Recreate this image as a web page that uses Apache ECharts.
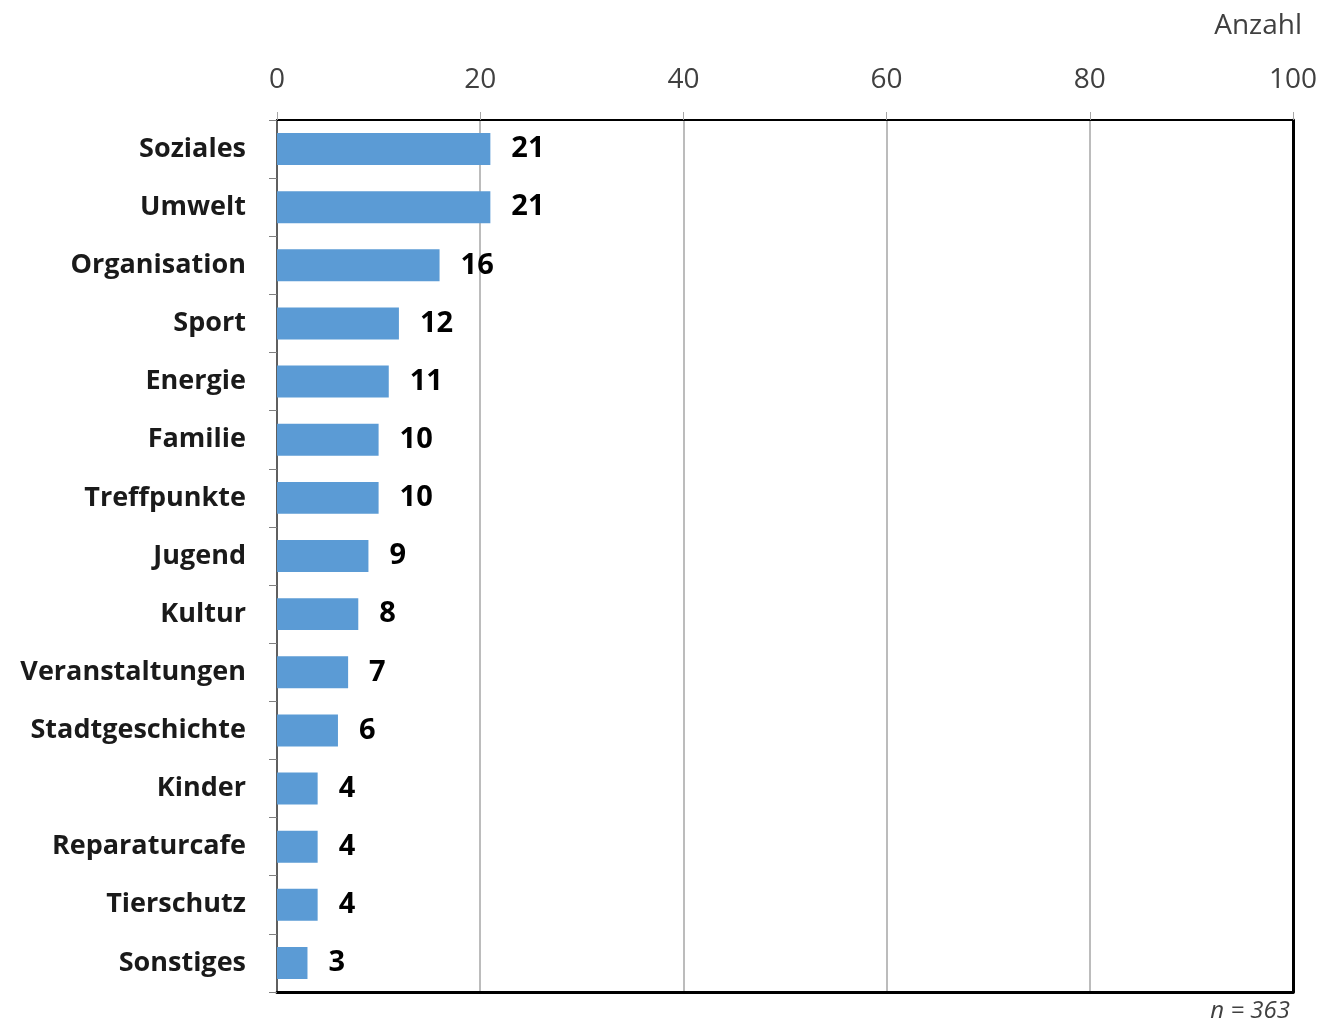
<!DOCTYPE html>
<html><head><meta charset="utf-8">
<script src="https://cdn.jsdelivr.net/npm/echarts@6/dist/echarts.min.js"></script>
<style>html,body{margin:0;padding:0;background:#fff}#c{width:1321px;height:1021px}</style>
</head><body><div id="c"></div>
<script>
const categories = ["Soziales","Umwelt","Organisation","Sport","Energie","Familie","Treffpunkte","Jugend","Kultur","Veranstaltungen","Stadtgeschichte","Kinder","Reparaturcafe","Tierschutz","Sonstiges"];
const values = [21,21,16,12,11,10,10,9,8,7,6,4,4,4,3];
const xTicks = {min:0, max:100, interval:20};
const unitLabel = "Anzahl";
const noteText = "n = 363";

const chart = echarts.init(document.getElementById('c'), null, {renderer:'canvas'});
const font = "'Open Sans', 'Noto Sans', sans-serif";
chart.setOption({
  animation:false,
  backgroundColor:'#fff',
  textStyle:{fontFamily:font},
  grid:{left:277, right:28, top:120, bottom:29, containLabel:false},
  title:[
    {text:unitLabel, right:14, top:7, textStyle:{fontFamily:font, fontSize:28, fontWeight:'normal', color:'#404040'}},
    {text:noteText, right:26, top:994, textStyle:{fontFamily:font, fontSize:24, fontWeight:'normal', fontStyle:'italic', color:'#404040'}}
  ],
  xAxis:[{
    type:'value', position:'top', min:xTicks.min, max:xTicks.max, interval:xTicks.interval,
    axisLine:{show:true, lineStyle:{color:'#000', width:2}},
    axisTick:{show:true, length:8, lineStyle:{color:'#a6a6a6', width:1}},
    axisLabel:{fontFamily:font, fontSize:28, color:'#404040', margin:26},
    splitLine:{show:true, lineStyle:{color:'#a6a6a6', width:1.5}}
  },{
    type:'value', position:'bottom', min:xTicks.min, max:xTicks.max, interval:xTicks.interval,
    axisLine:{show:true, onZero:false, lineStyle:{color:'#000', width:3}},
    axisTick:{show:false}, axisLabel:{show:false}, splitLine:{show:false}
  }],
  yAxis:[{
    type:'category', data:categories, inverse:true,
    axisLine:{show:true, lineStyle:{color:'#404040', width:1.5}},
    axisTick:{show:true, length:8, interval:0, lineStyle:{color:'#808080', width:1}},
    axisLabel:{fontFamily:font, fontSize:27, fontWeight:'bold', color:'#1a1a1a', margin:31, interval:0, padding:[3,0,0,0]},
    splitLine:{show:false}
  },{
    type:'category', data:categories, inverse:true, position:'right',
    axisLine:{show:true, onZero:false, lineStyle:{color:'#000', width:3}},
    axisTick:{show:false}, axisLabel:{show:false}, splitLine:{show:false}
  }],
  series:[{
    type:'bar', data:values, xAxisIndex:0, yAxisIndex:0, barWidth:'55%',
    itemStyle:{color:'#5b9bd5'},
    label:{show:true, position:'right', distance:21, fontFamily:font, fontSize:29, fontWeight:'bold', color:'#000', padding:[4,0,0,0]}
  }]
});
</script></body></html>
